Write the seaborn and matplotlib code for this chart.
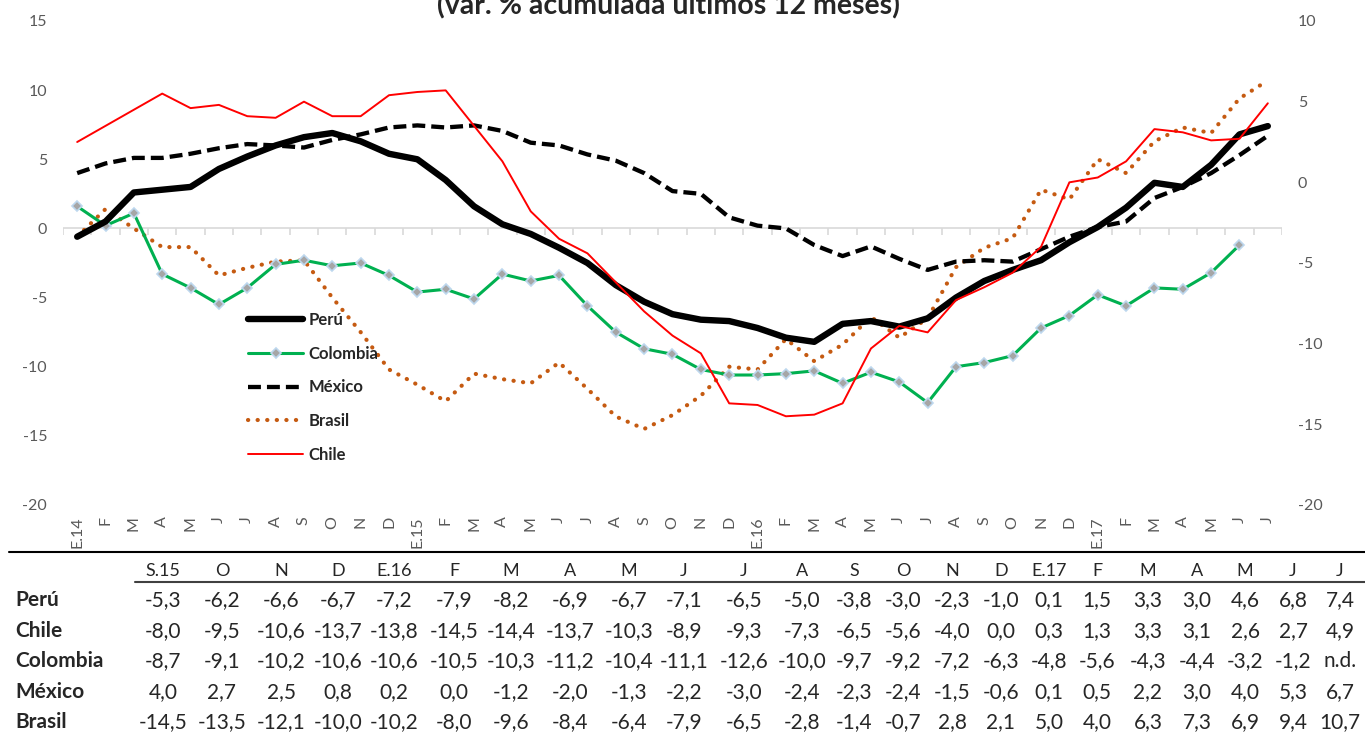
import numpy as np
import matplotlib
matplotlib.use("Agg")
import matplotlib.pyplot as plt
from matplotlib.lines import Line2D
import seaborn as sns

# etiquetas del eje x (mensual, E.14 - J.17)
meses = ['E.14', 'F', 'M', 'A', 'M', 'J', 'J', 'A', 'S', 'O', 'N', 'D',
         'E.15', 'F', 'M', 'A', 'M', 'J', 'J', 'A', 'S', 'O', 'N', 'D',
         'E.16', 'F', 'M', 'A', 'M', 'J', 'J', 'A', 'S', 'O', 'N', 'D',
         'E.17', 'F', 'M', 'A', 'M', 'J', 'J']

# var. % acumulada ultimos 12 meses
peru = [-0.6, 0.5, 2.6, 2.8, 3.0, 4.3, 5.2, 6.0, 6.6, 6.9, 6.3, 5.4,
        5.0, 3.5, 1.6, 0.3, -0.4, -1.4, -2.5, -4.1, -5.3, -6.2, -6.6, -6.7,
        -7.2, -7.9, -8.2, -6.9, -6.7, -7.1, -6.5, -5.0, -3.8, -3.0, -2.3, -1.0,
        0.1, 1.5, 3.3, 3.0, 4.6, 6.8, 7.4]
chile = [2.5, 3.5, 4.5, 5.5, 4.6, 4.8, 4.1, 4.0, 5.0, 4.1, 4.1, 5.4,
         5.6, 5.7, 3.5, 1.3, -1.8, -3.5, -4.4, -6.2, -8.0, -9.5, -10.6, -13.7,
         -13.8, -14.5, -14.4, -13.7, -10.3, -8.9, -9.3, -7.3, -6.5, -5.6, -4.0, 0.0,
         0.3, 1.3, 3.3, 3.1, 2.6, 2.7, 4.9]
colombia = [1.6, 0.2, 1.1, -3.3, -4.3, -5.5, -4.3, -2.6, -2.3, -2.7, -2.5, -3.4,
            -4.6, -4.4, -5.1, -3.3, -3.8, -3.4, -5.6, -7.5, -8.7, -9.1, -10.2, -10.6,
            -10.6, -10.5, -10.3, -11.2, -10.4, -11.1, -12.6, -10.0, -9.7, -9.2, -7.2, -6.3,
            -4.8, -5.6, -4.3, -4.4, -3.2, -1.2, np.nan]
mexico = [4.0, 4.7, 5.1, 5.1, 5.4, 5.8, 6.1, 6.0, 5.85, 6.4, 6.8, 7.3,
          7.45, 7.3, 7.45, 7.05, 6.2, 6.0, 5.35, 4.9, 4.0, 2.7, 2.5, 0.8,
          0.2, 0.0, -1.2, -2.0, -1.3, -2.2, -3.0, -2.4, -2.3, -2.4, -1.5, -0.6,
          0.1, 0.5, 2.2, 3.0, 4.0, 5.3, 6.7]
brasil = [-0.6, 1.4, 0.0, -1.35, -1.35, -3.4, -2.85, -2.4, -2.3, -5.0, -7.5, -10.2,
          -11.3, -12.5, -10.5, -10.9, -11.2, -9.7, -11.6, -13.6, -14.5, -13.5, -12.1, -10.0,
          -10.2, -8.0, -9.6, -8.4, -6.4, -7.9, -6.5, -2.8, -1.4, -0.7, 2.8, 2.1,
          5.0, 4.0, 6.3, 7.3, 6.9, 9.4, 10.7]

# tabla inferior: desde S.15
inicio_tabla = 20
columnas_tabla = ['S.15', 'O', 'N', 'D', 'E.16', 'F', 'M', 'A', 'M', 'J', 'J', 'A',
                  'S', 'O', 'N', 'D', 'E.17', 'F', 'M', 'A', 'M', 'J', 'J']
filas_tabla = [('Perú', peru), ('Chile', chile), ('Colombia', colombia),
               ('México', mexico), ('Brasil', brasil)]

W, H = 1365, 733
GRIS = '#595959'


def fx(x):
    return x / W


def fy(y):
    return 1 - y / H


def formato(v):
    if np.isnan(v):
        return 'n.d.'
    return f"{v:.1f}".replace('.', ',')


sns.set_style('white')
plt.rcParams['font.family'] = ['Lato', 'DejaVu Sans']
plt.rcParams['axes.unicode_minus'] = False

fig = plt.figure(figsize=(W / 100, H / 100), dpi=100)
ax = fig.add_axes([fx(63), fy(505), fx(1282 - 63), (505 - 21) / H])
ax2 = ax.twinx()

x = np.arange(len(meses))

# linea cero con marcas de categoria
ax.axhline(0, color='#D9D9D9', lw=1.2, zorder=1)
ax.vlines(np.arange(-0.5, len(meses)), -0.45, 0, color='#D9D9D9', lw=1.2, zorder=1)

sns.lineplot(x=x, y=peru, ax=ax, color='black', lw=4.6, label='Perú',
             solid_joinstyle='round', solid_capstyle='round', zorder=5)
sns.lineplot(x=x, y=colombia, ax=ax, color='#00B050', lw=2.2, label='Colombia',
             marker='D', markersize=5.5, markerfacecolor='#A6A6A6',
             markeredgecolor='#BDD7EE', markeredgewidth=1.2, zorder=4)
sns.lineplot(x=x, y=mexico, ax=ax, color='black', lw=3.1, label='México',
             linestyle=(0, (3, 1.4)), zorder=4)
sns.lineplot(x=x, y=brasil, ax=ax, color='#C55A11', lw=3.0, label='Brasil',
             linestyle=(0, (0.05, 2.25)), dash_capstyle='round', zorder=3)
sns.lineplot(x=x, y=chile, ax=ax2, color='#FF0000', lw=1.4, label='Chile', zorder=5)

for a in (ax, ax2):
    for s in a.spines.values():
        s.set_visible(False)
    a.set_xlabel('')
    a.set_ylabel('')
    if a.get_legend() is not None:
        a.get_legend().remove()

ax.set_xlim(-0.5, len(meses) - 0.5)
ax.set_ylim(-20, 15)
ax.set_yticks(range(-20, 16, 5))
ax2.set_ylim(-20, 10)
ax2.set_yticks(range(-20, 11, 5))
ax.set_xticks(x)
ax.set_xticklabels(meses, rotation=90, va='top', ha='center')
ax.tick_params(axis='x', length=0, pad=8, labelsize=11.5, labelcolor=GRIS)
ax.tick_params(axis='y', length=0, pad=11.5, labelsize=11.5, labelcolor=GRIS)
ax2.tick_params(axis='y', length=0, pad=11.5, labelsize=11.5, labelcolor=GRIS)
ax.grid(False)
ax2.grid(False)

# leyenda
h1, l1 = ax.get_legend_handles_labels()
h2, l2 = ax2.get_legend_handles_labels()
fig.legend(h1 + h2, l1 + l2, loc='upper left', bbox_to_anchor=(fx(248), fy(312)),
           frameon=False, prop={'weight': 'bold', 'size': 12},
           handlelength=3.3, handletextpad=0.35, labelspacing=1.06,
           borderpad=0, borderaxespad=0)

# titulo (cortado en la parte superior, como en el original)
fig.text(fx(668), fy(14), '(var. % acumulada últimos 12 meses)', ha='center',
         va='baseline', fontsize=20.5, weight='bold')

# tabla
centros = [163, 222, 281, 338, 394, 454, 511, 570, 629, 684, 744, 802,
           854, 903, 952, 1001, 1049, 1097, 1148, 1197, 1245, 1293, 1340]
fig.add_artist(Line2D([fx(9), 1], [fy(552), fy(552)], color='black', lw=1.5))
fig.add_artist(Line2D([fx(135), 1], [fy(582), fy(582)], color='#404040', lw=1.5))
for c, col in zip(centros, columnas_tabla):
    fig.text(fx(c), fy(571), col, ha='center', va='center', fontsize=13)
for fila_y, (nombre, serie) in zip([600, 631, 661, 692, 722], filas_tabla):
    fig.text(fx(15), fy(fila_y), nombre, ha='left', va='center', fontsize=15,
             weight='bold')
    for c, v in zip(centros, serie[inicio_tabla:]):
        fig.text(fx(c), fy(fila_y), formato(v), ha='center', va='center', fontsize=15)

fig.savefig('out.png', dpi=100)
